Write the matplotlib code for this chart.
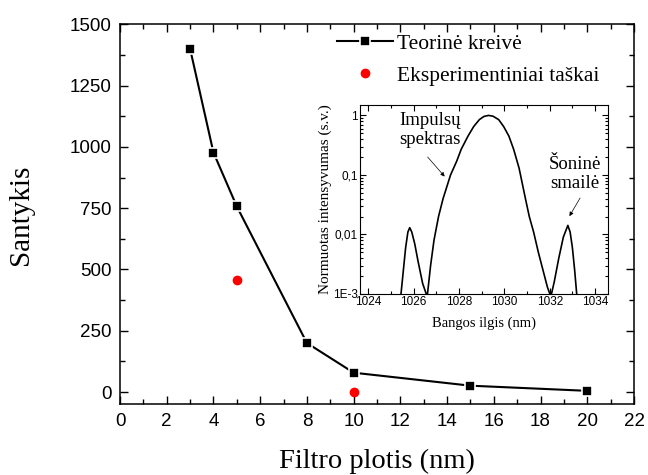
import numpy as np
import matplotlib
matplotlib.use('Agg')
import matplotlib.pyplot as plt
from matplotlib.ticker import MultipleLocator, FixedLocator, LogLocator, NullFormatter

# main chart data
filter_width = [3, 4, 5, 8, 10, 15, 20]
ratio_theory = [1400, 977, 757, 200, 79, 26, 5]
exp_width = [5, 10]
ratio_exp = [458, 0]

# inset spectrum
wavelength = [1025.42, 1025.55, 1025.65, 1025.75, 1025.83, 1025.92, 1026.05, 1026.2,
              1026.4, 1026.6, 1026.75, 1026.9, 1027.1, 1027.3, 1027.63, 1027.9,
              1028.1, 1028.4, 1028.65, 1028.9, 1029.1, 1029.3, 1029.5, 1029.75,
              1029.97, 1030.2, 1030.41, 1030.65, 1030.93, 1031.1, 1031.29, 1031.5,
              1031.73, 1031.9, 1032.05, 1032.2, 1032.4, 1032.6, 1032.8, 1032.9,
              1033.0, 1033.1, 1033.2]
intensity = [0.0008, 0.0025, 0.006, 0.011, 0.013, 0.011, 0.007, 0.0035,
             0.0015, 0.0009, 0.003, 0.008, 0.02, 0.04, 0.1, 0.17,
             0.27, 0.45, 0.65, 0.85, 0.96, 1.0, 0.97, 0.85,
             0.65, 0.45, 0.27, 0.13, 0.04, 0.02, 0.011, 0.005,
             0.0023, 0.0013, 0.0009, 0.0016, 0.004, 0.009, 0.0142, 0.011,
             0.006, 0.0025, 0.0009]
inset_yticks = [0.001, 0.01, 0.1, 1]
inset_ylabels = ['1E-3', '0,01', '0,1', '1']

SERIF = 'Liberation Serif'
SANS = 'Liberation Sans'

fig = plt.figure(figsize=(6.48, 4.75), dpi=100)
ax = fig.add_axes([0.1852, 0.1488, 0.7932, 0.8])

ax.plot(filter_width, ratio_theory, color='black', lw=1.5, marker='s', ms=7,
        mfc='black', mec='white', mew=1.2, label='Teorinė kreivė')
ax.plot(exp_width, ratio_exp, linestyle='none', marker='o', ms=6,
        color='#ff0000', mec='#ff0000', label='Eksperimentiniai taškai')

ax.set_xlim(0, 22)
ax.set_ylim(-50, 1500)
ax.xaxis.set_major_locator(MultipleLocator(2))
ax.xaxis.set_minor_locator(MultipleLocator(1))
ax.yaxis.set_major_locator(FixedLocator([0, 250, 500, 750, 1000, 1250, 1500]))
ax.yaxis.set_minor_locator(FixedLocator(np.arange(125, 1500, 250)))
ax.tick_params(which='both', direction='in', top=True, right=True, width=1)
ax.tick_params(which='major', length=6, labelsize=13.5, pad=6)
ax.tick_params(which='minor', length=3.5)
for lbl in ax.get_xticklabels() + ax.get_yticklabels():
    lbl.set_fontfamily(SANS)
for s in ax.spines.values():
    s.set_linewidth(1.1)

ax.set_xlabel('Filtro plotis (nm)', fontsize=20.5, family=SERIF, labelpad=14)
ax.set_ylabel('Santykis', fontsize=21, family=SERIF, labelpad=26)

leg = ax.legend(loc='upper left', bbox_to_anchor=(0.405, 0.998), frameon=False,
                prop={'family': SERIF, 'size': 15.5}, handlelength=2.6,
                handletextpad=0.2, labelspacing=0.55, borderaxespad=0)

# inset
ins = fig.add_axes([0.5556, 0.3811, 0.3827, 0.398])
ins.plot(wavelength, intensity, color='black', lw=1.2)
ins.set_yscale('log')
ins.set_xlim(1023.64, 1034.57)
ins.set_ylim(0.001, 1.5)
ins.xaxis.set_major_locator(MultipleLocator(2))
ins.xaxis.set_minor_locator(MultipleLocator(1))
ins.yaxis.set_major_locator(FixedLocator(inset_yticks))
ins.set_yticklabels(inset_ylabels)
ins.yaxis.set_minor_locator(LogLocator(base=10, subs=np.arange(2, 10)))
ins.yaxis.set_minor_formatter(NullFormatter())
ins.tick_params(which='both', direction='in', top=True, right=True, width=0.8)
ins.tick_params(which='major', length=4, labelsize=8.5, pad=1.5)
ins.tick_params(which='minor', length=2)
for lbl in ins.get_xticklabels() + ins.get_yticklabels():
    lbl.set_fontfamily(SANS)
ins.set_xlabel('Bangos ilgis (nm)', fontsize=10.5, family=SERIF, labelpad=6)
ins.set_ylabel('Normuotas intensyvumas (s.v.)', fontsize=11, family=SERIF, labelpad=1)

ins.text(1026.71, 0.56, 'Impulsų\nspektras', fontsize=13.5, family=SERIF,
         ha='center', va='center', linespacing=1.15)
ins.annotate('', xy=(1027.37, 0.094), xytext=(1026.62, 0.2),
             arrowprops=dict(arrowstyle='-|>', color='black', lw=0.5,
                             mutation_scale=6, shrinkA=0, shrinkB=0))
ins.text(1033.12, 0.105, 'Šoninė\nsmailė', fontsize=13.5, family=SERIF,
         ha='center', va='center', linespacing=1.15)
ins.annotate('', xy=(1032.87, 0.0203), xytext=(1033.34, 0.041),
             arrowprops=dict(arrowstyle='-|>', color='black', lw=0.5,
                             mutation_scale=6, shrinkA=0, shrinkB=0))

fig.savefig('out.png', dpi=100)
